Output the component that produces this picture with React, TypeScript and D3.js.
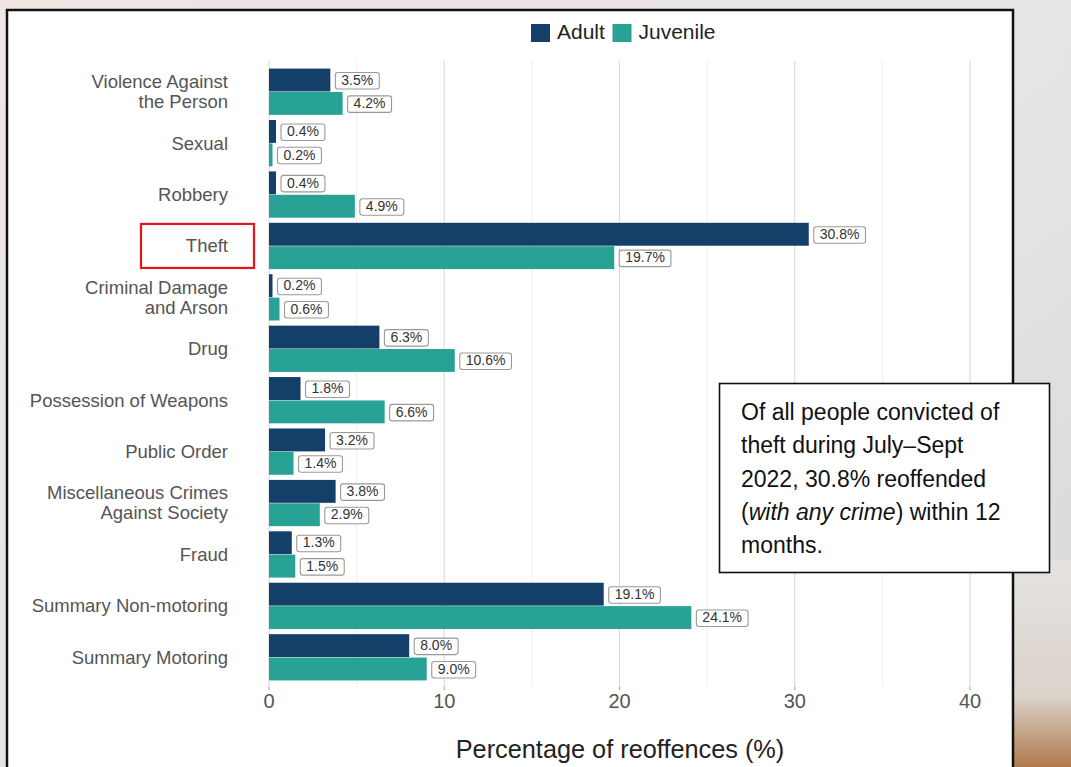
import React, { useEffect, useRef } from "react";
import * as d3 from "d3";

const categories = [
  "Violence Against\nthe Person",
  "Sexual",
  "Robbery",
  "Theft",
  "Criminal Damage\nand Arson",
  "Drug",
  "Possession of Weapons",
  "Public Order",
  "Miscellaneous Crimes\nAgainst Society",
  "Fraud",
  "Summary Non-motoring",
  "Summary Motoring",
];
const adult = [3.5, 0.4, 0.4, 30.8, 0.2, 6.3, 1.8, 3.2, 3.8, 1.3, 19.1, 8.0];
const juvenile = [4.2, 0.2, 4.9, 19.7, 0.6, 10.6, 6.6, 1.4, 2.9, 1.5, 24.1, 9.0];
const seriesNames = ["Adult", "Juvenile"];
const seriesColors = ["#143f69", "#29a296"];
const majorTicks = [0, 10, 20, 30, 40];
const minorTicks = [5, 15, 25, 35];
const highlighted = "Theft";
const noteLines: { text: string; italic?: boolean }[][] = [
  [{ text: "Of all people convicted of" }],
  [{ text: "theft during July\u2013Sept" }],
  [{ text: "2022, 30.8% reoffended" }],
  [{ text: "(" }, { text: "with any crime", italic: true }, { text: ") within 12" }],
  [{ text: "months." }],
];

const W = 1071;
const H = 767;
const FONT = "'Liberation Sans', Arial, sans-serif";

export default function App() {
  const ref = useRef<SVGSVGElement>(null);

  useEffect(() => {
    const svg = d3.select(ref.current);
    svg.selectAll("*").remove();

    // background
    const defs = svg.append("defs");
    const bg = defs.append("linearGradient").attr("id", "bg").attr("x1", 0).attr("y1", 0).attr("x2", 1).attr("y2", 1);
    bg.append("stop").attr("offset", "0%").attr("stop-color", "#efe6e4");
    bg.append("stop").attr("offset", "60%").attr("stop-color", "#e4e4e4");
    bg.append("stop").attr("offset", "100%").attr("stop-color", "#d8d6d4");
    svg.append("rect").attr("width", W).attr("height", H).attr("fill", "url(#bg)");
    const br = defs.append("linearGradient").attr("id", "br").attr("x1", 0).attr("y1", 0).attr("x2", 0).attr("y2", 1);
    br.append("stop").attr("offset", "0%").attr("stop-color", "#e4e2e0");
    br.append("stop").attr("offset", "65%").attr("stop-color", "#dcd4cc");
    br.append("stop").attr("offset", "100%").attr("stop-color", "#b07a4e");
    svg.append("rect").attr("x", 1014).attr("y", 560).attr("width", 57).attr("height", 207).attr("fill", "url(#br)");

    // main panel
    svg.append("rect").attr("x", 7).attr("y", 10).attr("width", 1006).attr("height", 770)
      .attr("fill", "#fff").attr("stroke", "#111").attr("stroke-width", 2.5);

    const x = d3.scaleLinear().domain([0, 40]).range([269, 970]);
    const y = d3.scaleBand<string>().domain(categories).range([66, 683]).paddingInner(0.1).paddingOuter(0.05);
    const sub = d3.scaleBand<string>().domain(seriesNames).range([0, y.bandwidth()]).paddingInner(0.02);
    const gridTop = 61, gridBottom = 687;

    const g = svg.append("g");
    g.selectAll(".minor").data(minorTicks).join("line")
      .attr("x1", (d) => x(d)).attr("x2", (d) => x(d)).attr("y1", gridTop).attr("y2", gridBottom)
      .attr("stroke", "#eeeeee").attr("stroke-width", 1);
    g.selectAll(".major").data(majorTicks).join("line")
      .attr("x1", (d) => x(d)).attr("x2", (d) => x(d)).attr("y1", gridTop).attr("y2", gridBottom)
      .attr("stroke", "#dcdcdc").attr("stroke-width", 1.2);
    g.selectAll(".tick").data(majorTicks).join("line")
      .attr("x1", (d) => x(d)).attr("x2", (d) => x(d)).attr("y1", gridBottom).attr("y2", gridBottom + 3)
      .attr("stroke", "#999");
    g.selectAll(".tl").data(majorTicks).join("text")
      .attr("x", (d) => x(d)).attr("y", 708).attr("text-anchor", "middle")
      .attr("font-family", FONT).attr("font-size", 20).attr("fill", "#555")
      .text((d) => String(d));

    const series = [adult, juvenile];
    series.forEach((vals, si) => {
      const name = seriesNames[si];
      const bars = g.append("g");
      categories.forEach((c, i) => {
        const v = vals[i];
        const by = (y(c) as number) + (sub(name) as number);
        const bh = sub.bandwidth();
        bars.append("rect").attr("x", x(0)).attr("y", by).attr("width", x(v) - x(0)).attr("height", bh)
          .attr("fill", seriesColors[si]);
        const label = v.toFixed(1) + "%";
        const t = bars.append("text").attr("x", 0).attr("y", by + bh / 2 + 1)
          .attr("dominant-baseline", "middle").attr("font-family", FONT).attr("font-size", 14)
          .attr("fill", "#333").text(label);
        const tw = (t.node() as SVGTextElement).getComputedTextLength();
        const bx = x(v) + 5;
        const bw = tw + 12;
        bars.insert("rect", "text:last-child")
          .attr("x", bx).attr("y", by + bh / 2 - 7.5).attr("width", bw).attr("height", 16.5)
          .attr("rx", 2.5).attr("fill", "#fff").attr("stroke", "#999").attr("stroke-width", 1.1);
        t.raise().attr("x", bx + 6);
      });
    });

    // category labels
    categories.forEach((c) => {
      const lines = c.split("\n");
      const cy = (y(c) as number) + y.bandwidth() / 2;
      const lh = 20;
      lines.forEach((ln, li) => {
        g.append("text").attr("x", 228).attr("y", cy + 1.5 + (li - (lines.length - 1) / 2) * lh)
          .attr("text-anchor", "end").attr("dominant-baseline", "middle")
          .attr("font-family", FONT).attr("font-size", 18.5).attr("fill", "#555").text(ln);
      });
      if (c === highlighted) {
        g.append("rect").attr("x", 141).attr("y", cy - 22).attr("width", 113).attr("height", 44)
          .attr("fill", "none").attr("stroke", "#e8141b").attr("stroke-width", 2.2);
      }
    });

    // legend
    const lg = svg.append("g");
    const legX = [531, 612.5];
    seriesNames.forEach((n, i) => {
      lg.append("rect").attr("x", legX[i]).attr("y", 24).attr("width", 19).attr("height", 18).attr("fill", seriesColors[i]);
      lg.append("text").attr("x", legX[i] + 26).attr("y", 33.5).attr("dominant-baseline", "middle")
        .attr("font-family", FONT).attr("font-size", 21).attr("fill", "#222").text(n);
    });

    // axis title
    svg.append("text").attr("x", 620).attr("y", 758).attr("text-anchor", "middle")
      .attr("font-family", FONT).attr("font-size", 25.3).attr("fill", "#222").text("Percentage of reoffences (%)");

    // annotation box
    const ng = svg.append("g");
    ng.append("rect").attr("x", 719.5).attr("y", 383.5).attr("width", 330).attr("height", 189)
      .attr("fill", "#fff").attr("stroke", "#111").attr("stroke-width", 1.6);
    noteLines.forEach((parts, i) => {
      const t = ng.append("text").attr("x", 741).attr("y", 420 + i * 33.3)
        .attr("font-family", FONT).attr("font-size", 23).attr("fill", "#111");
      parts.forEach((p) => {
        t.append("tspan").attr("font-style", p.italic ? "italic" : "normal").text(p.text);
      });
    });
  }, []);

  return (
    <svg ref={ref} width={W} height={H} style={{ position: "absolute", left: 0, top: 0, display: "block" }} />
  );
}
